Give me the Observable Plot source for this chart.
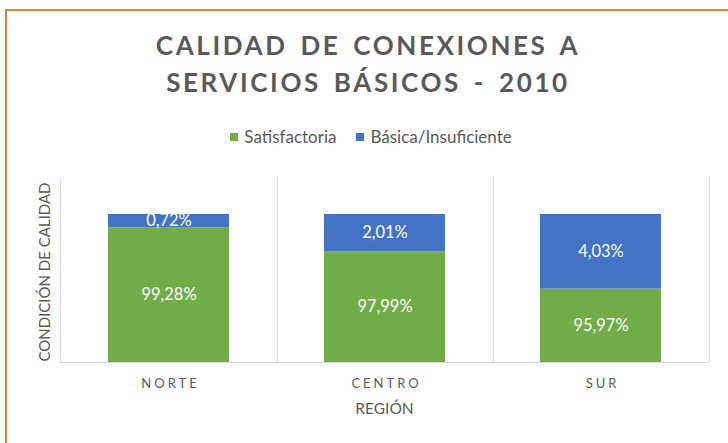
<!DOCTYPE html>
<html>
<head>
<meta charset="utf-8">
<script src="https://cdn.jsdelivr.net/npm/d3@7"></script>
<script src="https://cdn.jsdelivr.net/npm/@observablehq/plot@0.6"></script>
<style>
  html, body { margin: 0; padding: 0; background: #fff; }
  #wrap { position: relative; width: 728px; height: 443px; overflow: hidden; font-family: Lato, "Open Sans", sans-serif; color: #595959; }
  #border { position: absolute; left: 5px; top: 9px; width: 800px; height: 500px; border-left: 2px solid #ED7D31; border-top: 2px solid #ED7D31; box-sizing: border-box; }
  #title { position: absolute; left: 4px; top: 27px; width: 728px; text-align: center; font-weight: 700; font-size: 26px; line-height: 37px; letter-spacing: 2.6px; word-spacing: 4px; color: #595959; }
  #legend { position: absolute; left: 7px; top: 127px; width: 728px; display: flex; justify-content: center; align-items: center; font-size: 17px; line-height: 20px; color: #595959; }
  .item { display: flex; align-items: center; margin: 0 10px; }
  .sw { width: 8px; height: 8px; margin-right: 6px; }
  #chart { position: absolute; left: 0; top: 150px; }
  #chart g[aria-label="x-axis tick label"] text { letter-spacing: 3px; }
</style>
</head>
<body>
<div id="wrap">
  <div id="border"></div>
  <div id="title"></div>
  <div id="legend"></div>
  <div id="chart"></div>
</div>
<script>
const titleLines = ["CALIDAD DE CONEXIONES A", "SERVICIOS BÁSICOS - 2010"];
const regions = ["NORTE", "CENTRO", "SUR"];
const satisfactoria = [99.28, 97.99, 95.97];
const basica = [0.72, 2.01, 4.03];
const series = ["Satisfactoria", "Básica/Insuficiente"];
const colors = ["#70AD47", "#4472C4"];
const yDomain = [92, 102];
const xLabel = "REGIÓN";
const yLabel = "CONDICIÓN DE CALIDAD";

document.getElementById("title").innerHTML = titleLines.join("<br>");
const legend = document.getElementById("legend");
series.forEach((s, i) => {
  const it = document.createElement("div");
  it.className = "item";
  it.innerHTML = `<span class="sw" style="background:${colors[i]}"></span><span>${s}</span>`;
  legend.appendChild(it);
});

const rows = [];
regions.forEach((r, i) => {
  rows.push({region: r, serie: series[0], y1: 0, y2: satisfactoria[i], value: satisfactoria[i]});
  rows.push({region: r, serie: series[1], y1: satisfactoria[i], y2: satisfactoria[i] + basica[i], value: basica[i]});
});
const fmt = v => v.toFixed(2).replace(".", ",") + "%";

const width = 728, ml = 59, mr = 19;
const step = (width - ml - mr) / regions.length;

const plot = Plot.plot({
  width, height: 293,
  marginLeft: ml, marginRight: mr, marginTop: 27, marginBottom: 81,
  style: {fontFamily: "Lato, 'Open Sans', sans-serif", color: "#595959", background: "transparent"},
  x: {domain: regions, paddingInner: 0.44, paddingOuter: 0.22, label: null},
  y: {domain: yDomain, axis: null},
  color: {domain: series, range: colors},
  marks: [
    Plot.ruleX(regions, {x: d => d, dx: step / 2, stroke: "#d9d9d9"}),
    Plot.ruleX([regions[0]], {x: d => d, dx: -step / 2, stroke: "#d9d9d9"}),
    Plot.barY(rows, {x: "region", y1: "y1", y2: "y2", fill: "serie", clip: true}),
    Plot.ruleY([yDomain[0]], {stroke: "#d9d9d9"}),
    Plot.text(rows, {x: "region", y: d => (Math.max(d.y1, yDomain[0]) + d.y2) / 2, text: d => fmt(d.value), fill: "white", fontSize: 16.5}),
    Plot.axisX({tickSize: 0, tickPadding: 16, fontSize: 13, dx: 1.5, label: null}),
    Plot.text([xLabel], {frameAnchor: "bottom", dy: 47, lineAnchor: "middle", fontSize: 15.5, fill: "#595959"}),
    Plot.text([yLabel], {frameAnchor: "left", dx: -14, dy: 2, rotate: -90, textAnchor: "middle", lineAnchor: "middle", fontSize: 15, fill: "#595959"})
  ]
});
document.getElementById("chart").appendChild(plot);
</script>
</body>
</html>
